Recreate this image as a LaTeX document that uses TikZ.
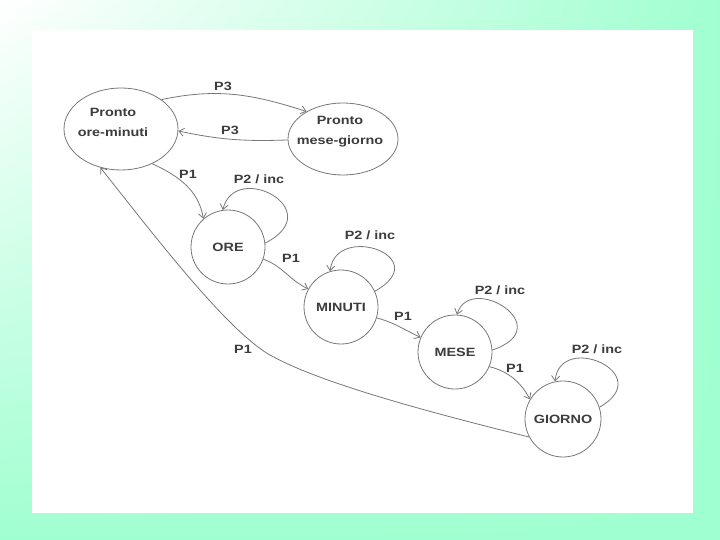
\documentclass[tikz,border=0pt]{standalone}
\usepackage{fontspec}
\setmainfont{Liberation Sans}
\newfontfamily\lblfont[FakeStretch=1.2]{Liberation Sans}
\usetikzlibrary{shapes.geometric,arrows.meta,calc,shadings}
\definecolor{mint}{RGB}{160,255,208}
\definecolor{edgec}{RGB}{120,120,120}
\definecolor{ink}{RGB}{60,60,60}
\begin{document}
\begin{tikzpicture}[x=1pt,y=-1pt,
  lbl/.style={font=\lblfont\bfseries\fontsize{12}{14}\selectfont, text=ink, inner sep=0pt},
  st/.style={draw=edgec, line width=0.8pt, circle, minimum size=74pt, inner sep=0pt, font=\lblfont\bfseries\fontsize{12}{14}\selectfont, text=ink},
  el/.style={draw=edgec, line width=0.8pt, ellipse, inner sep=0pt},
  tr/.style={draw=edgec, line width=0.8pt, -{Straight Barb[length=5pt,width=8pt]}}]
\shade[upper left=white, upper right=mint, lower left=mint, lower right=mint] (0,0) rectangle (720,540);
\useasboundingbox (0,0) rectangle (720,540);
\fill[white] (32,30) rectangle (693,513);

% states
\node[el, minimum width=114pt, minimum height=82pt] (om) at (121,129) {};
\node[lbl, align=center] (omt) at (113,122) {Pronto\\[6pt]ore-minuti};
\node[el, minimum width=110pt, minimum height=72pt] (mg) at (343,139) {};
\node[lbl, align=center] (mgt) at (340,132) {Pronto\\[6pt]mese-giorno};
\node[st] (ore) at (228,247) {ORE};
\node[st] (min) at (341,307) {MINUTI};
\node[st] (mese) at (455,352) {MESE};
\node[st, minimum size=76pt] (gio) at (563,419) {GIORNO};

% P3 transitions
\draw[tr] (om.36) to[out=12,in=162] (mg.143);
\draw[tr] (mg.181) to[out=182,in=-12] (om.-2);
\node[lbl] (p3a) at (223,86) {P3};
\node[lbl] (p3b) at (230,130) {P3};

% P1 chain
\draw[tr] (om.-48) to[out=-25,in=100] (ore.131);
\draw[tr] (ore.-19) to[out=-20,in=155] (min.151);
\draw[tr] (min.-17) to[out=-15,in=155] (mese.157);
\draw[tr] (mese.-23) to[out=-15,in=120] (gio.149);
\node[lbl] (p1a) at (188,174) {P1};
\node[lbl] (p1b) at (291,258) {P1};
\node[lbl] (p1c) at (403,316) {P1};
\node[lbl] (p1d) at (515,368) {P1};

% long return
\draw[tr] (gio.208) .. controls (420,410) and (310,380) .. (265,352)
  .. controls (220,322) and (150,230) .. (om.-118);
\node[lbl] (p1e) at (243,349) {P1};

% self loops
\draw[tr] (ore.6) .. controls ($(ore)+(102,-37)$) and ($(ore)+(7,-87)$) .. (ore.98);
\draw[tr] (min.25) .. controls ($(min)+(95,-50)$) and ($(min)+(-5,-85)$) .. (min.107);
\draw[tr] (mese.3) .. controls ($(mese)+(105,-25)$) and ($(mese)+(15,-80)$) .. (mese.87);
\draw[tr] (gio.18) .. controls ($(gio)+(95,-45)$) and ($(gio)+(-3,-88)$) .. (gio.102);
\node[lbl] (l1) at (259,179) {P2 / inc};
\node[lbl] (l2) at (370,235) {P2 / inc};
\node[lbl] (l3) at (500,290) {P2 / inc};
\node[lbl] (l4) at (597,349) {P2 / inc};
\end{tikzpicture}
\end{document}
